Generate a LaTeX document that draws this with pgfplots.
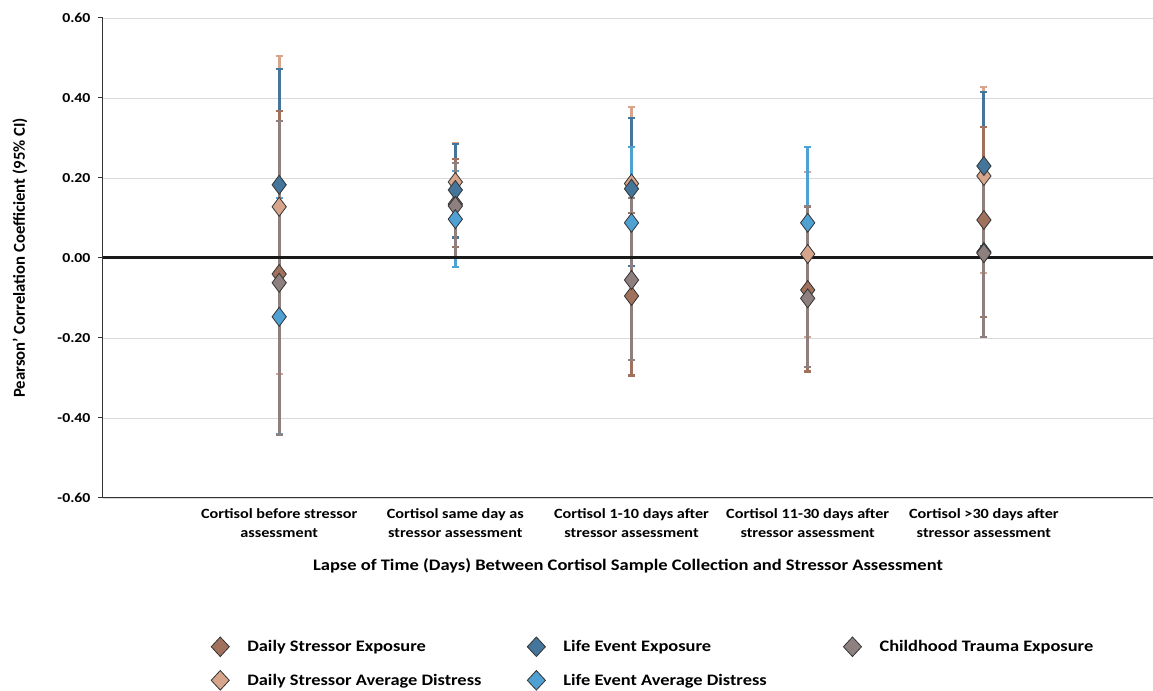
\documentclass[border=0pt]{standalone}
\usepackage{fontspec}
\setmainfont{Carlito}
\usepackage{graphicx}
\usepackage{pgfplots}
\usepackage{pgfplotstable}
\pgfplotsset{compat=1.18}

\definecolor{dse}{RGB}{160,113,92}
\definecolor{lee}{RGB}{68,117,154}
\definecolor{cte}{RGB}{143,128,128}
\definecolor{dsad}{RGB}{215,165,140}
\definecolor{lead}{RGB}{79,160,211}
\definecolor{gridgray}{RGB}{217,217,217}

% x = time-lapse category, y = r, lo/hi = 95% CI
\pgfplotstableread{
x y lo hi
1 -0.040 -0.442 0.368
2 0.135 0.027 0.248
3 -0.095 -0.294 0.113
4 -0.080 -0.284 0.127
5 0.095 -0.148 0.328
}\tabdse
\pgfplotstableread{
x y lo hi
1 0.183 -0.442 0.472
2 0.170 0.051 0.285
3 0.173 -0.020 0.349
5 0.230 0.030 0.415
5 0.015 -0.197 0.220
}\tablee
\pgfplotstableread{
x y lo hi
1 -0.062 -0.442 0.342
2 0.130 0.002 0.238
3 -0.055 -0.255 0.149
4 -0.101 -0.273 0.130
5 0.012 -0.197 0.210
}\tabcte
\pgfplotstableread{
x y lo hi
1 0.128 -0.290 0.505
2 0.190 0.027 0.288
3 0.186 -0.020 0.377
4 0.010 -0.197 0.214
5 0.205 -0.038 0.427
}\tabdsad
\pgfplotstableread{
x y lo hi
1 -0.147 -0.440 0.150
2 0.097 -0.022 0.218
3 0.088 -0.100 0.277
4 0.088 -0.100 0.277
}\tablead

\pgfplotsset{
  cibar/.style={forget plot, draw=none, mark=none,
    error bars/.cd, y dir=both, y explicit, error mark=-,
    error bar style={draw=#1, line width=3pt},
    error mark options={draw=#1, line width=2.2pt, mark size=3.5pt, rotate=90}},
  dmark/.style={only marks, mark=diamond*, mark size=9.5pt,
    mark options={fill=#1, draw=black!80, line width=0.8pt}},
  lmark/.style={only marks, mark=diamond*, mark size=11.5pt,
    mark options={fill=#1, draw=black!80, line width=0.8pt, xscale=1.05, yscale=0.85}},
  /pgfplots/table/citab/.style={/pgfplots/table/x=x, /pgfplots/table/y=y,
    /pgfplots/table/y error plus expr=\thisrow{hi}-\thisrow{y},
    /pgfplots/table/y error minus expr=\thisrow{y}-\thisrow{lo}},
}
% the reference text is set a little wide
\newcommand{\hs}[1]{\scalebox{1.15}[1]{#1}}
\newcommand{\legtext}[1]{\makebox[290pt][l]{\hspace*{14pt}\hs{#1}}}

\begin{document}
\begin{tikzpicture}
\begin{axis}[
  scale only axis, width=1050pt, height=480pt,
  xmin=0, xmax=5.96, ymin=-0.6, ymax=0.6,
  axis x line*=bottom, axis y line*=left,
  axis line style={draw=black!80, line width=1pt, -},
  ytick={-0.6,-0.4,...,0.61},
  yticklabel={\hs{\pgfmathprintnumber[fixed, fixed zerofill, precision=2, assume math mode=true]{\tick}}},
  yticklabel style={font=\fontsize{13.7}{16}\selectfont\bfseries, xshift=-4pt},
  ymajorgrids, grid style={draw=gridgray, line width=0.8pt},
  xtick={1,2,3,4,5},
  xticklabels={{\hs{Cortisol before stressor}\\\hs{assessment}},
               {\hs{Cortisol same day as}\\\hs{stressor assessment}},
               {\hs{Cortisol 1-10 days after}\\\hs{stressor assessment}},
               {\hs{Cortisol 11-30 days after}\\\hs{stressor assessment}},
               {\hs{Cortisol >30 days after}\\\hs{stressor assessment}}},
  xticklabel style={align=center, font=\fontsize{14.1}{19}\selectfont\bfseries, yshift=-2pt},
  x tick style={draw=none},
  tick align=outside, major tick length=5pt,
  y tick style={draw=black!80, line width=1pt},
  xlabel={\hs{Lapse of Time (Days) Between Cortisol Sample Collection and Stressor Assessment}},
  xlabel style={font=\fontsize{16.1}{19}\selectfont\bfseries, yshift=-14pt},
  ylabel={Pearson’ Correlation Coefficient (95\% CI)},
  ylabel style={font=\fontsize{16.7}{19}\selectfont\bfseries,
    at={(axis description cs:-0.079,0.5)}, anchor=center},
  legend columns=3,
  legend cell align=left,
  legend style={draw=none, fill=none, font=\fontsize{16}{19}\selectfont\bfseries,
    at={(axis description cs:0.1,-0.285)}, anchor=north west,
    row sep=14pt, column sep=2pt},
  clip=false,
]
\coordinate (ll) at (rel axis cs:0,0);
\coordinate (ur) at (rel axis cs:1,1);

% confidence intervals
\addplot[cibar=dsad] table[citab]{\tabdsad};
\addplot[cibar=lee] table[citab]{\tablee};
\addplot[cibar=dse] table[citab]{\tabdse};
\addplot[cibar=lead] table[citab]{\tablead};
\addplot[cibar=cte] table[citab]{\tabcte};

% zero line
\addplot[forget plot, black!90, line width=3pt] coordinates {(0,0) (5.96,0)};

% point estimates
\addplot[dmark=dse, forget plot] table[x=x, y=y]{\tabdse};
\addplot[dmark=dsad, forget plot] table[x=x, y=y]{\tabdsad};
\addplot[dmark=lee, forget plot] table[x=x, y=y]{\tablee};
\addplot[dmark=cte, forget plot] table[x=x, y=y]{\tabcte};
\addplot[dmark=lead, forget plot] table[x=x, y=y]{\tablead};

\addlegendimage{lmark=dse}\addlegendentry{\legtext{Daily Stressor Exposure}}
\addlegendimage{lmark=lee}\addlegendentry{\legtext{Life Event Exposure}}
\addlegendimage{lmark=cte}\addlegendentry{\legtext{Childhood Trauma Exposure}}
\addlegendimage{lmark=dsad}\addlegendentry{\legtext{Daily Stressor Average Distress}}
\addlegendimage{lmark=lead}\addlegendentry{\legtext{Life Event Average Distress}}
\end{axis}
\pgfresetboundingbox
\path[use as bounding box] ([shift={(-103pt,-193pt)}]ll) rectangle ([shift={(0pt,18pt)}]ur);
\end{tikzpicture}
\end{document}
